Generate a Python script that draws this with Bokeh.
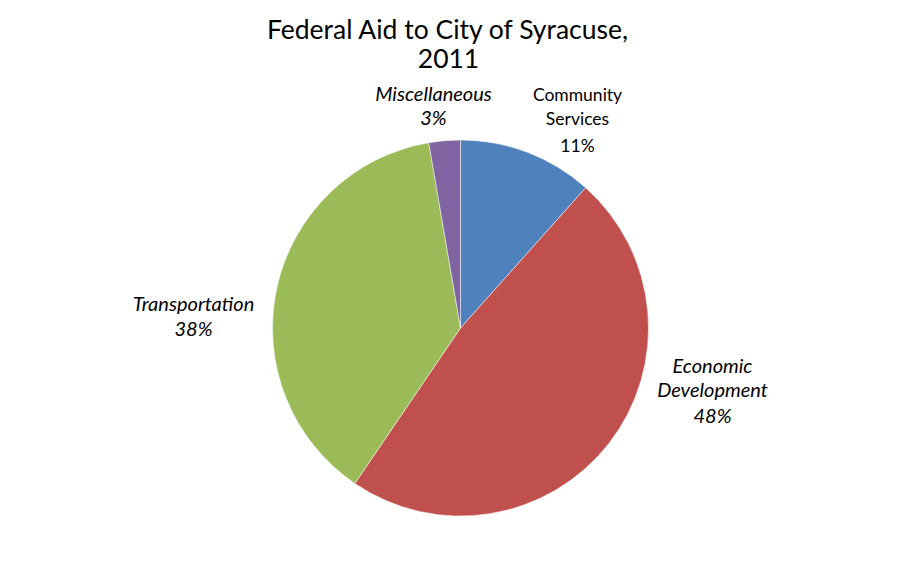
import math
from bokeh.plotting import figure
from bokeh.models import ColumnDataSource, Range1d
from bokeh.core.properties import value
from bokeh.embed import file_html
from bokeh.resources import INLINE

# ---- data ----
categories = ["Community Services", "Economic Development", "Transportation", "Miscellaneous"]
shares = [11.6, 47.9, 37.8, 2.7]
pct_labels = ["11%", "48%", "38%", "3%"]
colors = ["#4F81BD", "#C0504D", "#9BBB59", "#8064A2"]
title_lines = ["Federal Aid to City of Syracuse,", "2011"]

W, H = 904, 552
p = figure(width=W, height=H, output_backend="svg", toolbar_location=None,
           x_range=Range1d(0, W), y_range=Range1d(0, H), min_border=0)
p.axis.visible = False
p.grid.visible = False
p.outline_line_color = None
p.background_fill_color = "white"
p.border_fill_color = "white"

cx, cy, r = 460, H - 327.5, 188
total = sum(shares)
starts, ends = [], []
acc = 0.0
for s in shares:
    starts.append(math.pi / 2 - 2 * math.pi * acc / total)
    acc += s
    ends.append(math.pi / 2 - 2 * math.pi * acc / total)

src = ColumnDataSource(dict(start=starts, end=ends, color=colors, cat=categories))
p.wedge(x=cx, y=cy, radius=r, start_angle="start", end_angle="end", direction="clock",
        fill_color="color", line_color="white", line_width=0.5, source=src)

FONT = "Lato"

def txt(x, y, s, size, style="normal"):
    p.text(x=[x], y=[H - y], text=[s], text_align="center", text_baseline="middle",
           text_font=value(FONT), text_font_size=size, text_font_style=style, text_color="black")

# title
txt(448, 28, title_lines[0], "26.5px")
txt(448, 58, title_lines[1], "26.5px")

# labels (page coords of line centres)
up = "17.5px"
it = "20px"
txt(577, 94, "Community", up)
txt(577, 118, "Services", up)
txt(577, 145, pct_labels[0], up)

txt(712, 364, "Economic", it, "italic")
txt(712, 388, "Development", it, "italic")
txt(712, 414, pct_labels[1], it, "italic")

txt(193, 302, "Transportation", it, "italic")
txt(193, 327, pct_labels[2], it, "italic")

txt(433, 92, "Miscellaneous", it, "italic")
txt(433, 116, pct_labels[3], it, "italic")

open("out.html", "w").write(file_html(p, INLINE))
